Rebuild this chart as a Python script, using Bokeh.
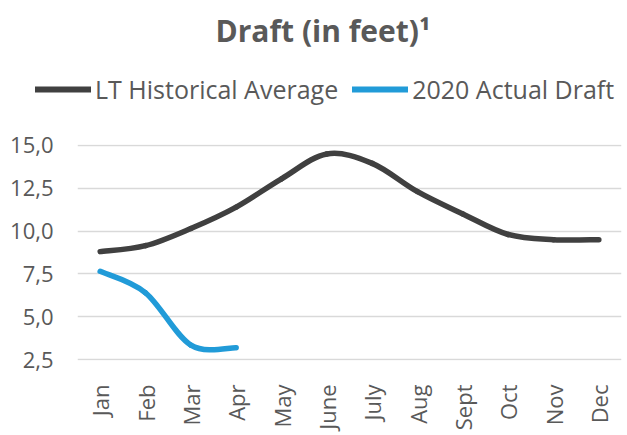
import math
from bokeh.plotting import figure
from bokeh.layouts import column
from bokeh.models import FixedTicker, Legend, LegendItem, Label, Range1d
from bokeh.embed import file_html
from bokeh.resources import INLINE

months = ["Jan", "Feb", "Mar", "Apr", "May", "June", "July", "Aug", "Sept", "Oct", "Nov", "Dec"]
lt_avg = [8.8, 9.15, 10.15, 11.4, 13.05, 14.5, 13.95, 12.3, 11.0, 9.8, 9.5, 9.5]
actual_2020 = [7.65, 6.4, 3.35, 3.2]
y_ticks = [2.5, 5.0, 7.5, 10.0, 12.5, 15.0]
y_tick_labels = ["2,5", "5,0", "7,5", "10,0", "12,5", "15,0"]
series_names = ["LT Historical Average", "2020 Actual Draft"]
series_colors = ["#404040", "#219bd8"]
chart_title = "Draft (in feet)\u00b9"

TEXT = "#595959"
FONT = "Open Sans"
W = 625


def smooth_segments(ys):
    xs = list(range(len(ys)))
    n = len(ys)
    seg = dict(x0=[], y0=[], x1=[], y1=[], cx0=[], cy0=[], cx1=[], cy1=[])
    for i in range(n - 1):
        a = i - 1 if i > 0 else i
        d = i + 2 if i + 2 < n else i + 1
        seg["x0"].append(xs[i]); seg["y0"].append(ys[i])
        seg["x1"].append(xs[i + 1]); seg["y1"].append(ys[i + 1])
        seg["cx0"].append(xs[i] + (xs[i + 1] - xs[a]) / 6)
        seg["cy0"].append(ys[i] + (ys[i + 1] - ys[a]) / 6)
        seg["cx1"].append(xs[i + 1] - (xs[d] - xs[i]) / 6)
        seg["cy1"].append(ys[i + 1] - (ys[d] - ys[i]) / 6)
    return seg


# ---- header figure: title + legend (its ranges keep the series out of view) ----
TOP_H = 130
top = figure(width=W, height=TOP_H, output_backend="svg", toolbar_location=None,
             x_range=Range1d(100, 101), y_range=Range1d(100, 101),
             x_axis_location=None, y_axis_location=None,
             min_border=0, min_border_left=0, min_border_right=0,
             min_border_top=0, min_border_bottom=0)
top.frame_align = False
top.title = None
top.outline_line_color = None
top.grid.visible = False

title = Label(x=215, y=TOP_H - 30, x_units="screen", y_units="screen",
              text=chart_title, text_align="left", text_baseline="alphabetic",
              text_font=FONT, text_font_style="bold", text_font_size="30px",
              text_color=TEXT)
top.add_layout(title)

leg_r = [top.line(x=list(range(len(ys))), y=ys, line_color=c, line_width=6, line_cap="round")
         for ys, c in zip([lt_avg, actual_2020], series_colors)]
legend = Legend(items=[LegendItem(label=n, renderers=[r]) for n, r in zip(series_names, leg_r)],
                orientation="horizontal", location=(35, 24),
                padding=0, margin=0, spacing=14, label_standoff=4,
                glyph_width=56, glyph_height=24,
                border_line_color=None, background_fill_alpha=0,
                label_text_font=FONT, label_text_font_size="25px",
                label_text_color=TEXT)
top.add_layout(legend, "center")

# ---- main chart ----
p = figure(width=W, height=303, output_backend="svg", toolbar_location=None,
           x_range=Range1d(-0.5, 11.5), y_range=Range1d(2.45, 15.05),
           min_border_left=77, min_border_right=4, min_border_top=14,
           min_border_bottom=69)
p.frame_align = False
p.title = None
p.outline_line_color = None
p.background_fill_color = "white"
p.border_fill_color = "white"

p.xgrid.grid_line_color = None
p.ygrid.grid_line_color = "#d9d9d9"
p.ygrid.grid_line_width = 1.5
p.ygrid.ticker = FixedTicker(ticks=y_ticks)

p.yaxis.ticker = FixedTicker(ticks=y_ticks)
p.yaxis.major_label_overrides = {t: l for t, l in zip(y_ticks, y_tick_labels)}
p.xaxis.ticker = FixedTicker(ticks=list(range(len(months))))
p.xaxis.major_label_overrides = {i: m for i, m in enumerate(months)}
p.xaxis.major_label_orientation = math.pi / 2
for ax in (p.xaxis, p.yaxis):
    ax.axis_line_color = None
    ax.major_tick_line_color = None
    ax.minor_tick_line_color = None
    ax.major_label_text_color = TEXT
    ax.major_label_text_font = FONT
p.yaxis.major_label_text_font_size = "22px"
p.xaxis.major_label_text_font_size = "22px"
p.yaxis.major_label_standoff = 18
p.xaxis.major_label_standoff = 18

for ys, c in zip([lt_avg, actual_2020], series_colors):
    p.bezier(source=smooth_segments(ys), x0="x0", y0="y0", x1="x1", y1="y1",
             cx0="cx0", cy0="cy0", cx1="cx1", cy1="cy1",
             line_color=c, line_width=5.5, line_cap="round")

layout = column(top, p, spacing=0)
open("out.html", "w").write(file_html(layout, INLINE))
